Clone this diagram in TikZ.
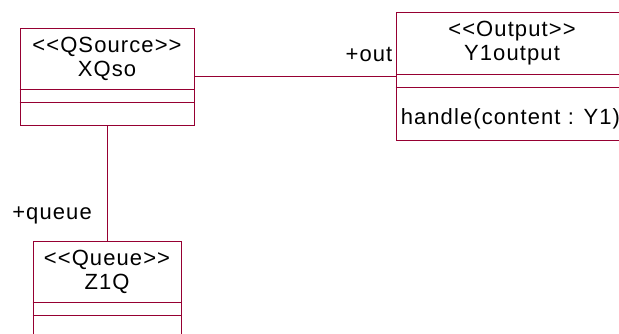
\documentclass[tikz,border=0pt]{standalone}
\usepackage{fontspec}
\usepackage{xcolor}
\usetikzlibrary{calc}

\newfontfamily\umlfont{Liberation Sans}[LetterSpace=5]
\definecolor{umlred}{RGB}{150,0,50}

\tikzset{
  classbox/.style={draw=umlred, line width=0.9pt, fill=white, inner sep=0pt},
  divider/.style={draw=umlred, line width=0.9pt},
  titletext/.style={font=\umlfont\fontsize{22}{24}\selectfont, align=center, inner sep=0pt},
  membertext/.style={font=\umlfont\fontsize{22}{24}\selectfont, inner sep=0pt},
  rolelabel/.style={font=\umlfont\fontsize{22}{24}\selectfont, inner sep=0pt},
  assoc/.style={draw=umlred, line width=0.9pt}
}

\begin{document}
\begin{tikzpicture}[x=1pt,y=-1pt]

\useasboundingbox (0,0) rectangle (619,333);
\clip (0,0) rectangle (619,333);

% QSource class
\node[classbox, minimum width=174pt, minimum height=97pt] (xqso) at (107,76.5) {};
\node[titletext] (xqsoTitle) at (107,59) {<<QSource>>\\XQso};
\draw[divider] ($(xqso.north west)+(0,62)$) -- ($(xqso.north east)+(0,62)$);
\draw[divider] ($(xqso.north west)+(0,75)$) -- ($(xqso.north east)+(0,75)$);

% Output class
\node[classbox, minimum width=232pt, minimum height=128pt] (y1out) at (512,76.5) {};
\node[titletext] (y1outTitle) at (512,43) {<<Output>>\\Y1output};
\draw[divider] ($(y1out.north west)+(0,62)$) -- ($(y1out.north east)+(0,62)$);
\draw[divider] ($(y1out.north west)+(0,75)$) -- ($(y1out.north east)+(0,75)$);
\node[membertext, anchor=base west] (y1outOp) at ($(y1out.north west)+(5,112)$) {handle(content : Y1)};

% Queue class
\node[classbox, minimum width=148pt, minimum height=97pt] (z1q) at (107,289.5) {};
\node[titletext] (z1qTitle) at (107,272) {<<Queue>>\\Z1Q};
\draw[divider] ($(z1q.north west)+(0,62)$) -- ($(z1q.north east)+(0,62)$);
\draw[divider] ($(z1q.north west)+(0,75)$) -- ($(z1q.north east)+(0,75)$);

% Associations
\draw[assoc] (xqso.east) -- (y1out.west);
\draw[assoc] (xqso.south) -- (z1q.north);

% Role names
\node[rolelabel, anchor=base east] (outRole) at ($(y1out.west)+(-3,-15)$) {+out};
\node[rolelabel, anchor=base east] (queueRole) at ($(z1q.north)+(-15,-21)$) {+queue};

\end{tikzpicture}
\end{document}
